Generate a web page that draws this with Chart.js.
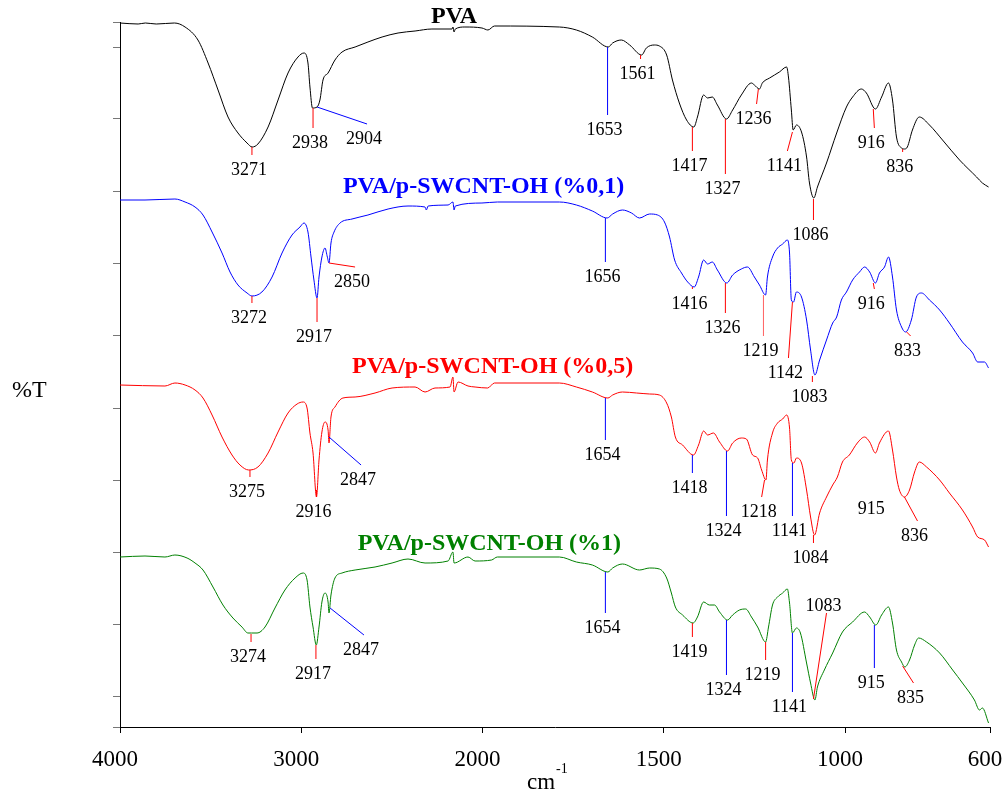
<!DOCTYPE html>
<html>
<head>
<meta charset="utf-8">
<script src="https://cdn.jsdelivr.net/npm/chart.js@4.4.1/dist/chart.umd.min.js"></script>
<style>
  html, body { margin: 0; padding: 0; background: #fff; }
  #wrap { width: 1002px; height: 796px; }
</style>
</head>
<body>
<div id="wrap"><canvas id="ftirChart" width="1002" height="796"></canvas></div>
<script>
// [wavenumber cm-1, height above x axis]
const pva = [[4000,704],[3900,703],[3860,704],[3800,703],[3700,704],[3641,700],[3570,687],[3514,664],[3459,637],[3404,610],[3349,594],[3299,584],[3271,580],[3239,583],[3183,600],[3128,627],[3073,654],[3018,670],[2985,674],[2963,664],[2952,640],[2938,619],[2913,620],[2897,627],[2880,647],[2852,654],[2814,667],[2775,675],[2703,680],[2632,685],[2554,690],[2466,694],[2372,696],[2279,698],[2168,698],[2163,700],[2157,695],[2150,698],[2097,700],[2003,699],[1985,697],[1967,701],[1788,700],[1741,697],[1697,690],[1653,680],[1641,684],[1617,687],[1594,682],[1561,672],[1548,679],[1526,682],[1512,681],[1492,672],[1476,647],[1457,624],[1437,607],[1417,600],[1407,610],[1390,632],[1379,629],[1366,630],[1352,622],[1327,608],[1310,617],[1286,632],[1258,644],[1250,642],[1236,638],[1228,644],[1208,649],[1181,655],[1161,660],[1156,650],[1148,617],[1143,597],[1134,602],[1120,595],[1106,570],[1098,544],[1086,529],[1076,540],[1051,564],[1023,594],[996,620],[979,630],[955,638],[941,634],[916,618],[899,630],[880,644],[869,627],[858,590],[844,579],[836,578],[828,580],[814,597],[795,610],[767,602],[731,587],[684,567],[637,550],[621,544],[604,540]];

const swcnt01 = [[4000,527],[3862,527],[3697,528],[3641,525],[3586,520],[3542,512],[3492,495],[3437,474],[3393,455],[3349,442],[3299,434],[3272,431],[3217,435],[3161,450],[3106,474],[3051,492],[3007,500],[2985,504],[2963,495],[2946,470],[2930,447],[2913,429],[2902,450],[2886,470],[2869,479],[2856,470],[2847,464],[2836,484],[2819,495],[2786,504],[2720,508],[2632,512],[2521,518],[2411,521],[2317,520],[2310,517],[2300,521],[2190,522],[2163,525],[2157,517],[2150,521],[2003,524],[1959,525],[1788,525],[1741,522],[1697,516],[1656,509],[1641,513],[1614,517],[1589,514],[1567,509],[1539,513],[1517,512],[1498,505],[1484,490],[1470,467],[1451,454],[1434,445],[1416,440],[1404,450],[1390,467],[1379,463],[1366,465],[1352,457],[1326,444],[1310,452],[1286,458],[1269,460],[1250,450],[1236,442],[1219,432],[1214,450],[1200,470],[1186,479],[1172,483],[1159,487],[1153,474],[1148,427],[1142,425],[1134,435],[1120,430],[1106,407],[1095,377],[1083,352],[1070,367],[1051,387],[1034,404],[1023,410],[1010,427],[996,435],[979,447],[960,455],[946,460],[932,455],[916,444],[905,454],[891,460],[880,470],[869,450],[858,417],[844,400],[833,395],[817,407],[803,430],[789,434],[767,427],[739,417],[712,404],[676,385],[648,374],[634,365],[615,365],[604,359]];

const swcnt05 = [[4000,342],[3752,341],[3697,344],[3641,342],[3586,337],[3542,329],[3492,312],[3437,290],[3382,272],[3338,262],[3290,257],[3239,260],[3183,274],[3128,295],[3073,314],[3023,323],[2990,325],[2968,319],[2952,294],[2935,274],[2916,230],[2902,267],[2886,295],[2869,305],[2852,297],[2847,284],[2836,310],[2814,320],[2770,329],[2703,330],[2593,334],[2499,339],[2372,340],[2317,335],[2262,339],[2179,340],[2163,350],[2157,335],[2135,345],[2080,341],[2041,340],[1986,339],[1967,344],[1788,344],[1741,340],[1697,335],[1654,329],[1641,332],[1614,335],[1575,334],[1539,333],[1512,332],[1492,324],[1479,310],[1468,290],[1448,282],[1418,272],[1404,282],[1390,296],[1379,292],[1363,294],[1346,285],[1324,276],[1310,284],[1286,289],[1272,288],[1255,272],[1241,269],[1230,257],[1218,247],[1214,267],[1200,294],[1186,304],[1172,308],[1161,312],[1153,299],[1148,267],[1141,264],[1134,269],[1120,264],[1106,237],[1095,210],[1084,192],[1070,214],[1051,230],[1034,242],[1021,250],[1007,265],[988,272],[966,284],[946,290],[932,285],[916,274],[905,284],[880,296],[869,277],[858,250],[850,237],[836,230],[822,237],[808,255],[795,265],[775,260],[739,247],[712,234],[676,217],[648,200],[634,190],[615,187],[604,180]];

const swcnt1 = [[4000,170],[3862,171],[3752,170],[3697,172],[3630,169],[3586,164],[3542,157],[3487,140],[3432,122],[3377,109],[3327,100],[3294,94],[3274,94],[3244,94],[3200,100],[3145,119],[3090,137],[3034,149],[2990,154],[2968,147],[2952,120],[2935,100],[2917,82],[2902,100],[2886,125],[2869,134],[2852,125],[2847,114],[2836,132],[2814,149],[2775,154],[2703,157],[2593,160],[2499,164],[2411,168],[2317,164],[2190,166],[2163,175],[2157,164],[2080,170],[2041,166],[1975,167],[1959,170],[1788,170],[1741,165],[1697,162],[1654,155],[1641,159],[1614,163],[1567,157],[1539,159],[1512,158],[1492,149],[1479,134],[1468,120],[1448,112],[1419,104],[1407,110],[1390,125],[1374,122],[1360,122],[1346,115],[1324,107],[1310,112],[1291,117],[1274,118],[1258,110],[1241,100],[1219,85],[1211,100],[1200,122],[1186,130],[1172,134],[1159,138],[1153,124],[1145,94],[1134,99],[1123,94],[1106,64],[1095,44],[1083,27],[1076,40],[1057,57],[1034,74],[1007,95],[979,105],[946,115],[932,110],[915,102],[899,112],[880,120],[869,104],[858,77],[844,65],[835,60],[822,67],[808,82],[797,89],[775,85],[739,74],[703,57],[676,44],[643,27],[629,17],[621,19],[604,4]];

// peak marks: [label, line colour, wn on curve, h on curve, wn end, h end, text above]
const pvaPeaks = [
  ['3271','#ff0000',3272,580,3272,572],
  ['2938','#ff0000',2935,619,2935,599],
  ['2904','#0000ff',2913,620,2637,603],
  ['1653','#0000ff',1655,680,1655,612],
  ['1561','#ff0000',1564,672,1564,668],
  ['1417','#ff0000',1421,600,1421,576],
  ['1327','#ff0000',1330,608,1330,553],
  ['1236','#ff0000',1239,638,1244,623],
  ['1141','#ff0000',1145,595,1159,576],
  ['1086','#ff0000',1087,528,1087,507],
  ['916','#ff0000',922,618,919,599],
  ['836','#ff0000',841,578,841,575]
];
const swcnt01Peaks = [
  ['3272','#ff0000',3272,431,3272,424],
  ['2917','#ff0000',2913,429,2913,405],
  ['2850','#ff0000',2847,464,2703,460],
  ['1656','#0000ff',1661,509,1661,465],
  ['1416','#ff0000',1421,440,1421,438],
  ['1326','#ff0000',1330,444,1330,414],
  ['1219','#ff6060',1225,432,1225,391],
  ['1142','#ff0000',1145,425,1156,369],
  ['1083','#ff0000',1090,351,1090,345],
  ['916','#ff0000',922,444,919,438],
  ['833','#ff0000',830,395,819,391]
];
const swcnt05Peaks = [
  ['3275','#ff0000',3283,257,3283,250],
  ['2916','#ff0000',2916,237,2916,230],
  ['2847','#0000ff',2847,290,2670,262],
  ['1654','#0000ff',1661,329,1661,287],
  ['1418','#0000ff',1421,272,1421,254],
  ['1324','#0000ff',1327,276,1327,211],
  ['1218','#ff0000',1222,247,1230,230],
  ['1141','#0000ff',1145,264,1145,211],
  ['1084','#ff0000',1087,192,1087,184],
  ['915',null,919,233,919,233],
  ['836','#ff0000',836,230,800,206]
];
const swcnt1Peaks = [
  ['3274','#ff0000',3277,93,3277,85],
  ['2917','#ff0000',2919,82,2919,68],
  ['2847','#0000ff',2841,119,2654,92],
  ['1654','#0000ff',1661,155,1661,114],
  ['1419','#ff0000',1421,104,1421,90],
  ['1324','#0000ff',1327,107,1327,52],
  ['1219','#ff0000',1219,85,1219,67],
  ['1141','#0000ff',1145,94,1145,35],
  ['1083','#ff0000',1087,28,1051,114,true],
  ['915','#0000ff',919,102,919,59],
  ['835','#ff0000',841,61,811,44]
];

const seriesNames = ['PVA', 'PVA/p-SWCNT-OH (%0,1)', 'PVA/p-SWCNT-OH (%0,5)', 'PVA/p-SWCNT-OH (%1)'];
const seriesColors = ['#000000', '#0000ff', '#ff0000', '#008000'];
const nameWn = [2157, 1997, 1972, 1981];
const nameH = [704, 534, 354, 177];

const xTickWn = [4000, 3000, 2000, 1500, 1000, 600];
const yTicks = [0, 31, 103, 175, 247, 319, 392, 464, 536, 608, 680, 705];

// the x axis is compressed 2:1 above 2000 cm-1
function tx(wn) { return wn > 2000 ? 2000 + (wn - 2000) / 2 : wn; }
function untx(t) { return t > 2000 ? 2000 + (t - 2000) * 2 : t; }

const allSeries = [pva, swcnt01, swcnt05, swcnt1];
const allPeaks = [pvaPeaks, swcnt01Peaks, swcnt05Peaks, swcnt1Peaks];

const serif = '"Liberation Serif", "Times New Roman", serif';
Chart.defaults.font.family = serif;

const peakLabels = {
    id: 'peakLabels',
    afterDatasetsDraw(chart) {
        const { ctx, chartArea, scales: { x, y } } = chart;
        ctx.save();
        ctx.lineWidth = 1;
        ctx.textAlign = 'center';
        ctx.textBaseline = 'alphabetic';
        ctx.font = '18px ' + serif;
        allPeaks.forEach(list => {
            list.forEach(p => {
                const x1 = x.getPixelForValue(tx(p[2]));
                const y1 = y.getPixelForValue(p[3]);
                const x2 = x.getPixelForValue(tx(p[4]));
                const y2 = y.getPixelForValue(p[5]);
                if (p[1]) {
                    ctx.strokeStyle = p[1];
                    ctx.beginPath();
                    ctx.moveTo(x1, y1);
                    ctx.lineTo(x2, y2);
                    ctx.stroke();
                }
                ctx.fillStyle = '#000';
                ctx.fillText(p[0], x2 - 3, p[6] ? y2 - 2 : y2 + 20);
            });
        });

        // series names
        ctx.font = 'bold 24px ' + serif;
        seriesNames.forEach((name, i) => {
            ctx.fillStyle = seriesColors[i];
            ctx.fillText(name, x.getPixelForValue(tx(nameWn[i])), y.getPixelForValue(nameH[i]));
        });

        // axis titles
        ctx.fillStyle = '#000';
        ctx.textAlign = 'left';
        ctx.font = '24px ' + serif;
        ctx.fillText('%T', chartArea.left - 108, (chartArea.top + chartArea.bottom) / 2 + 22);
        const cx = (chartArea.left + chartArea.right) / 2 - 28;
        ctx.font = '23px ' + serif;
        ctx.fillText('cm', cx, chartArea.bottom + 62);
        const w = ctx.measureText('cm').width;
        ctx.font = '14px ' + serif;
        ctx.fillText('-1', cx + w + 1, chartArea.bottom + 46);
        ctx.restore();
    }
};

const config = {
    type: 'line',
    data: {
        datasets: allSeries.map((s, i) => ({
            label: seriesNames[i],
            data: s.map(d => ({ x: tx(d[0]), y: d[1] })),
            borderColor: seriesColors[i],
            borderWidth: 1,
            pointRadius: 0,
            cubicInterpolationMode: 'monotone',
            fill: false
        }))
    },
    options: {
        responsive: false,
        animation: false,
        layout: {
            padding: { left: 80, right: 12, top: 22, bottom: 0 }
        },
        plugins: {
            legend: { display: false },
            tooltip: { enabled: false }
        },
        scales: {
            x: {
                type: 'linear',
                reverse: true,
                min: 600,
                max: 3000,
                afterBuildTicks: (scale) => {
                    scale.ticks = xTickWn.map(v => ({ value: tx(v) }));
                },
                afterFit: (scale) => {
                    scale.height = 69;
                    scale.paddingLeft = 0;
                    scale.paddingRight = 0;
                },
                grid: { drawOnChartArea: false, drawTicks: true, tickLength: 6, color: '#000' },
                border: { color: '#000', width: 1 },
                ticks: {
                    autoSkip: false,
                    maxRotation: 0,
                    labelOffset: -5,
                    padding: 13,
                    color: '#000',
                    font: { family: serif, size: 23 },
                    callback: (value) => String(untx(value))
                }
            },
            y: {
                type: 'linear',
                min: 0,
                max: 705,
                afterBuildTicks: (scale) => {
                    scale.ticks = yTicks.map(v => ({ value: v }));
                },
                afterFit: (scale) => {
                    scale.width = 40;
                },
                grid: { drawOnChartArea: false, drawTicks: true, tickLength: 7, color: '#777' },
                border: { color: '#000', width: 1 },
                ticks: { callback: () => '' }
            }
        }
    },
    plugins: [peakLabels]
};

new Chart('ftirChart', config);
</script>
</body>
</html>
